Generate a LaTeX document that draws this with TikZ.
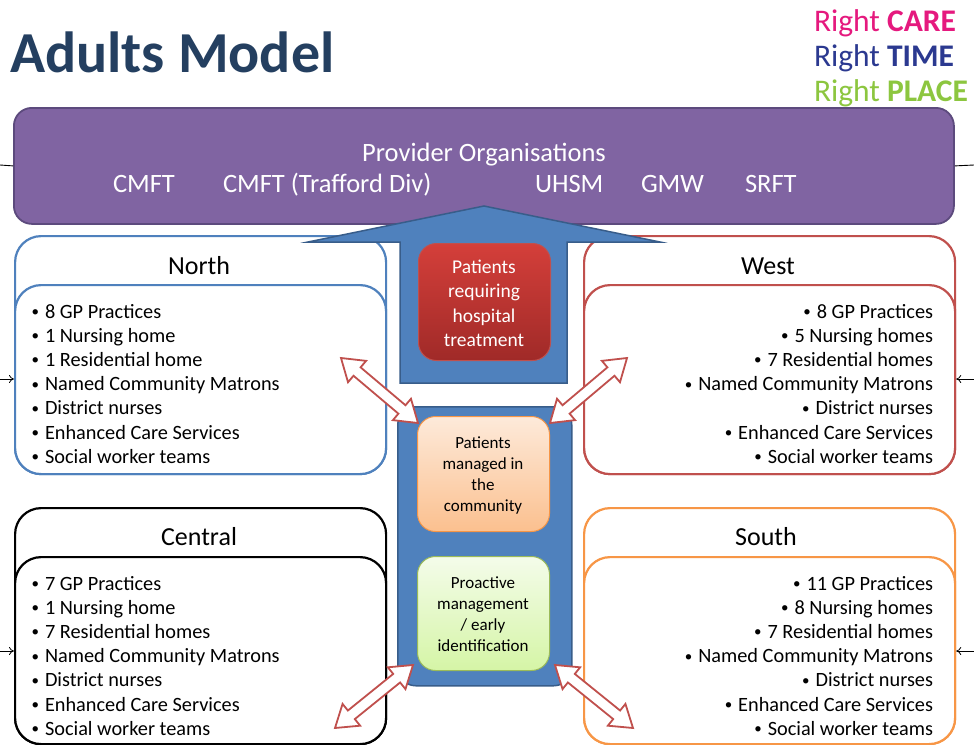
\documentclass[tikz,border=0pt]{standalone}
\usepackage{fontspec}
\setmainfont{Carlito}
\usetikzlibrary{arrows.meta}
\definecolor{titleblue}{HTML}{243F60}
\definecolor{purplefill}{HTML}{8064A2}
\definecolor{purpleline}{HTML}{5C4A7D}
\definecolor{bluefill}{HTML}{4F81BD}
\definecolor{blueline}{HTML}{385D8A}
\definecolor{redline}{HTML}{C0504D}
\definecolor{redtop}{HTML}{D43F3A}
\definecolor{redbot}{HTML}{A02A28}
\definecolor{orangeline}{HTML}{F79646}
\definecolor{orangetop}{HTML}{FDEADA}
\definecolor{orangebot}{HTML}{FBC08F}
\definecolor{greenline}{HTML}{9BBB59}
\definecolor{greentop}{HTML}{F4FCEA}
\definecolor{greenbot}{HTML}{D5F5A6}
\definecolor{logopink}{HTML}{E5197E}
\definecolor{logonavy}{HTML}{2B3990}
\definecolor{logogreen}{HTML}{8CC63F}
\newcommand\fsz[2]{\fontsize{#1}{#2}\selectfont}
\newcommand\bul{\llap{\raisebox{1.6pt}{\fsz{15}{15}•}\hspace{6pt}}}
\newcommand\hollowarrow[5]{%
  \pgfmathsetmacro\hadx{#4-#2}%
  \pgfmathsetmacro\hady{#5-#3}%
  \pgfmathsetmacro\hlen{veclen(\hadx,\hady)}%
  \pgfmathsetmacro\hang{atan2(-\hady,\hadx)}%
  \coordinate (#1a) at (#2,#3);
  \coordinate (#1b) at (#4,#5);
  \begin{scope}[shift={(#2,#3)}, rotate=\hang]
    \draw[dblarrow] (0,0) -- (21,14) -- (21,5.5) -- (\hlen-21,5.5) -- (\hlen-21,14)
      -- (\hlen,0) -- (\hlen-21,-14) -- (\hlen-21,-5.5) -- (21,-5.5) -- (21,-14) -- cycle;
  \end{scope}}
\begin{document}
\begin{tikzpicture}[x=1pt,y=-1pt,
  txt/.style={inner sep=0pt, outer sep=0pt},
  regbox/.style={draw=#1, line width=2.2pt, fill=white, rounded corners=26pt,
     minimum width=371pt, anchor=north west, inner sep=0pt},
  dblarrow/.style={draw=redline, fill=white, line width=1.8pt, line join=miter},
  sidearrow/.style={draw=black, line width=0.8pt, -{To[length=5pt,width=8pt]}},
  bultxt/.style={txt, font=\fsz{20.3}{24}},
  head/.style={txt, font=\fsz{26}{30}, anchor=base},
  ctr/.style={txt, anchor=base, font=\fsz{19.5}{24}},
  ctrs/.style={txt, anchor=base, font=\fsz{17}{21}},
  prov/.style={txt, font=\fsz{26.5}{30}, text=white},
]
\useasboundingbox (0,0) rectangle (974,744);
\fill[white] (0,0) rectangle (974,744);

% side lines
\coordinate (pl) at (0,165);
\coordinate (pr) at (974,165);
\coordinate (nl) at (0,379);
\coordinate (wr) at (974,379);
\coordinate (cl) at (0,651);
\coordinate (sr) at (974,651);

% title
\node[txt, anchor=base west, font={\fsz{58}{68}\bfseries}, text=titleblue] (title) at (10,72) {Adults Model};

% logo
\node[txt, anchor=base west, font=\fsz{31.5}{34}, text=logopink] (l1) at (814,31) {Right \textbf{CARE}};
\node[txt, anchor=base west, font=\fsz{31.5}{34}, text=logonavy] (l2) at (814,66) {Right \textbf{TIME}};
\node[txt, anchor=base west, font=\fsz{31.5}{34}, text=logogreen] (l3) at (814,101) {Right \textbf{PLACE}};

% provider box
\node[draw=purpleline, fill=purplefill, line width=1.8pt, rounded corners=18pt,
  minimum width=940pt, minimum height=116pt, anchor=north west, inner sep=0pt] (prov) at (13,107) {};
\draw[line width=0.9pt] (pl) -- (prov.west);
\draw[line width=0.9pt] (prov.east) -- (pr);

% region boxes
\node[regbox=bluefill, minimum height=238pt] (north) at (14,235) {};
\node[regbox=bluefill, minimum height=189pt] (northin) at (14,284) {};
\node[regbox=redline, minimum height=238pt] (west) at (583,235) {};
\node[regbox=redline, minimum height=189pt] (westin) at (583,284) {};
\node[regbox=black, minimum height=236pt] (central) at (14,507) {};
\node[regbox=black, minimum height=187pt] (centralin) at (14,556) {};
\node[regbox=orangeline, minimum height=236pt] (south) at (583,507) {};
\node[regbox=orangeline, minimum height=187pt] (southin) at (583,556) {};

\draw[sidearrow] (nl) -- (northin.west |- nl);
\draw[sidearrow] (wr) -- (westin.east |- wr);
\draw[sidearrow] (cl) -- (centralin.west |- cl);
\draw[sidearrow] (sr) -- (southin.east |- sr);

% big arrow
\draw[fill=bluefill, draw=blueline, line width=1.5pt, line join=miter]
  (484,206) -- (660,242) -- (567,242) -- (567,383) -- (400,383) -- (400,242) -- (308,242) -- cycle;

% red box
\node[draw=redline, top color=redtop, bottom color=redbot, line width=1pt, rounded corners=18pt,
  minimum width=132pt, minimum height=117pt, anchor=north west, inner sep=0pt] (hosp) at (418,243) {};

% center blue box
\node[draw=blueline, fill=bluefill, line width=1.5pt, rounded corners=18pt,
  minimum width=174pt, minimum height=279pt, anchor=north west, inner sep=0pt] (core) at (397,406) {};
\node[draw=orangeline, top color=orangetop, bottom color=orangebot, line width=1pt, rounded corners=18pt,
  minimum width=132pt, minimum height=115pt, anchor=north west, inner sep=0pt] (comm) at (417,416) {};
\node[draw=greenline, top color=greentop, bottom color=greenbot, line width=1pt, rounded corners=18pt,
  minimum width=132pt, minimum height=114pt, anchor=north west, inner sep=0pt] (proact) at (417,556) {};

% double arrows
\hollowarrow{ane}{341}{358}{418}{423}
\hollowarrow{awe}{627}{358}{550}{423}
\hollowarrow{ace}{413}{665}{335}{728}
\hollowarrow{aso}{555}{665}{633}{728}

% provider text
\node[prov, anchor=base] (provt) at (484,161) {Provider Organisations};
\node[prov, anchor=base west] (o1) at (113,192) {CMFT};
\node[prov, anchor=base west] (o2) at (223,192) {CMFT (Trafford Div)};
\node[prov, anchor=base west] (o3) at (535,192) {UHSM};
\node[prov, anchor=base west] (o4) at (641,192) {GMW};
\node[prov, anchor=base west] (o5) at (745,192) {SRFT};

% center texts
\foreach \t [count=\i] in {Patients, requiring, hospital, treatment}
  \node[ctr, text=white] (h\i) at (484,{273+24.5*(\i-1)}) {\t};
\foreach \t [count=\i] in {Patients, managed in, the, community}
  \node[ctrs] (c\i) at (483,{448+21*(\i-1)}) {\t};
\foreach \t [count=\i] in {Proactive, management, / early, identification}
  \node[ctrs] (p\i) at (483,{588+21.3*(\i-1)}) {\t};

% headers
\node[head] (nh) at (199,274) {North};
\node[head] (wh) at (768,274) {West};
\node[head] (ch) at (199,545) {Central};
\node[head] (sh) at (766,545) {South};

% bullets
\foreach \t [count=\i] in {8 GP Practices, 1 Nursing home, 1 Residential home, Named Community Matrons, District nurses, Enhanced Care Services, Social worker teams}
  \node[bultxt, anchor=base west] (nb\i) at (45,{318+24.2*(\i-1)}) {\bul\t};
\foreach \t [count=\i] in {8 GP Practices, 5 Nursing homes, 7 Residential homes, Named Community Matrons, District nurses, Enhanced Care Services, Social worker teams}
  \node[bultxt, anchor=base east] (wb\i) at (933,{318+24.2*(\i-1)}) {\bul\t};
\foreach \t [count=\i] in {7 GP Practices, 1 Nursing home, 7 Residential homes, Named Community Matrons, District nurses, Enhanced Care Services, Social worker teams}
  \node[bultxt, anchor=base west] (cb\i) at (45,{590+24.2*(\i-1)}) {\bul\t};
\foreach \t [count=\i] in {11 GP Practices, 8 Nursing homes, 7 Residential homes, Named Community Matrons, District nurses, Enhanced Care Services, Social worker teams}
  \node[bultxt, anchor=base east] (sb\i) at (933,{590+24.2*(\i-1)}) {\bul\t};
\end{tikzpicture}
\end{document}
